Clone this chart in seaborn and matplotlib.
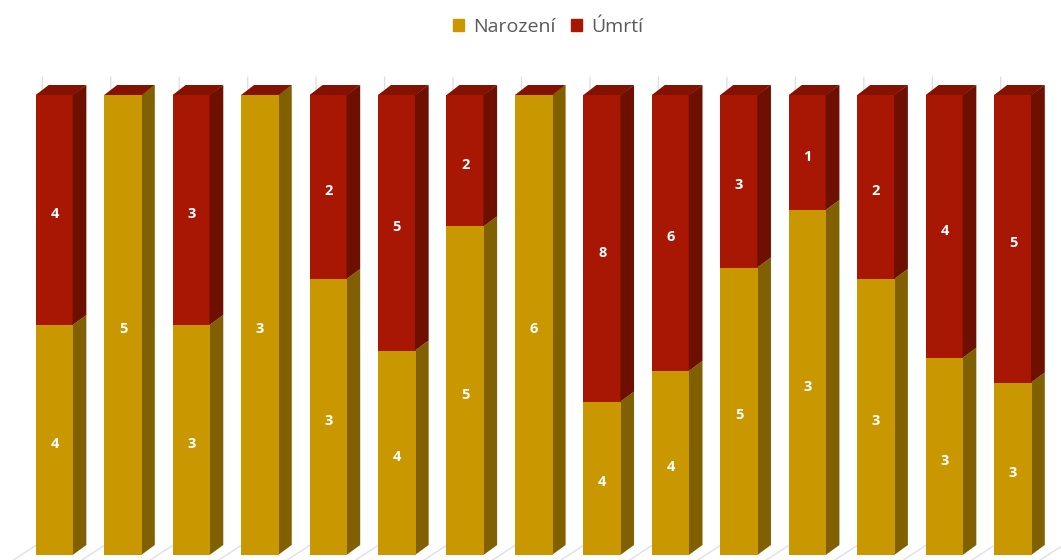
import matplotlib
matplotlib.use("Agg")
import matplotlib.pyplot as plt
import pandas as pd
import seaborn as sns
from matplotlib.patches import Patch

obdobi = [str(i) for i in range(1, 16)]
narozeni = [4, 5, 3, 3, 3, 4, 5, 6, 4, 4, 5, 3, 3, 3, 3]
umrti = [4, 0, 3, 0, 2, 5, 2, 0, 8, 6, 3, 1, 2, 4, 5]

GOLD = "#C99700"
GOLD_SIDE = "#806000"
RED = "#A81604"
RED_SIDE = "#6E1000"
RED_TOP = "#841200"
GRID = "#DCE1E9"
LABEL_GREY = "#595959"

# depth of the fake 3d bars, in data units
DX = 13 / 68.46
DY = 10 / 460 * 100


def main():
    sns.set_theme(style="white")
    plt.rcParams["font.family"] = ["Open Sans", "DejaVu Sans"]

    df = pd.DataFrame({"obdobi": obdobi, "narozeni": narozeni, "umrti": umrti})
    df["celkem"] = df["narozeni"] + df["umrti"]
    df["podil_n"] = df["narozeni"] / df["celkem"] * 100
    df["plny"] = 100.0

    fig = plt.figure(figsize=(10.61, 5.6), dpi=100)
    ax = fig.add_axes([20.3 / 1061, 5 / 560, 68.46 * 15 / 1061, 460 / 560])

    # full red bars first, gold share on top of them = 100 % stacked
    sns.barplot(data=df, x="obdobi", y="plny", color=RED, saturation=1,
                width=0.55, linewidth=0, ax=ax, zorder=3)
    n_red = len(ax.patches)
    sns.barplot(data=df, x="obdobi", y="podil_n", color=GOLD, saturation=1,
                width=0.55, linewidth=0, ax=ax, zorder=4)
    red_bars = ax.patches[:n_red]
    gold_bars = ax.patches[n_red:]

    ax.set_xlim(-0.5, 14.5)
    ax.set_ylim(0, 100)
    ax.axis("off")

    # wall and floor gridlines between the categories
    for k in range(16):
        xb = k - 0.5
        ax.plot([xb - 7 / 68.46, xb + 22 / 68.46, xb + 22 / 68.46],
                [-1.1, 3.0, 103.9], color=GRID, lw=1, zorder=1, clip_on=False)

    for red, gold, n, u in zip(red_bars, gold_bars, narozeni, umrti):
        x0 = red.get_x()
        x1 = x0 + red.get_width()
        h = gold.get_height()
        # side faces start a hair inside the front so no white seam shows
        xs = x1 - 0.01
        ax.fill([xs, x1 + DX, x1 + DX, xs], [0, DY, h + DY, h],
                color=GOLD_SIDE, lw=0, zorder=3, clip_on=False)
        ax.fill([xs, x1 + DX, x1 + DX, xs], [h, h + DY, 100 + DY, 100],
                color=GOLD_SIDE if u == 0 else RED_SIDE, lw=0, zorder=3,
                clip_on=False)
        ax.fill([x0, x0 + DX, x1 + DX, x1], [100, 100 + DY, 100 + DY, 100],
                color=RED_TOP, lw=0, zorder=3, clip_on=False)

        xc = (x0 + x1) / 2
        ax.annotate(str(n), (xc, h / 2), xytext=(0, -3),
                    textcoords="offset points", ha="center", va="center",
                    color="white", fontsize=10.5, fontweight="bold", zorder=5)
        if u > 0:
            ax.annotate(str(u), (xc, (h + 100) / 2), xytext=(0, -3),
                        textcoords="offset points", ha="center", va="center",
                        color="white", fontsize=10.5, fontweight="bold", zorder=5)

    handles = [Patch(color=GOLD, label="Narození"), Patch(color=RED, label="Úmrtí")]
    fig.legend(handles=handles, loc="center", bbox_to_anchor=(548 / 1061, 1 - 27 / 560),
               ncol=2, frameon=False, fontsize=14, labelcolor=LABEL_GREY,
               handlelength=0.58, handleheight=0.58, handletextpad=0.45,
               columnspacing=0.8)

    fig.savefig("out.png", dpi=100)


if __name__ == "__main__":
    main()
